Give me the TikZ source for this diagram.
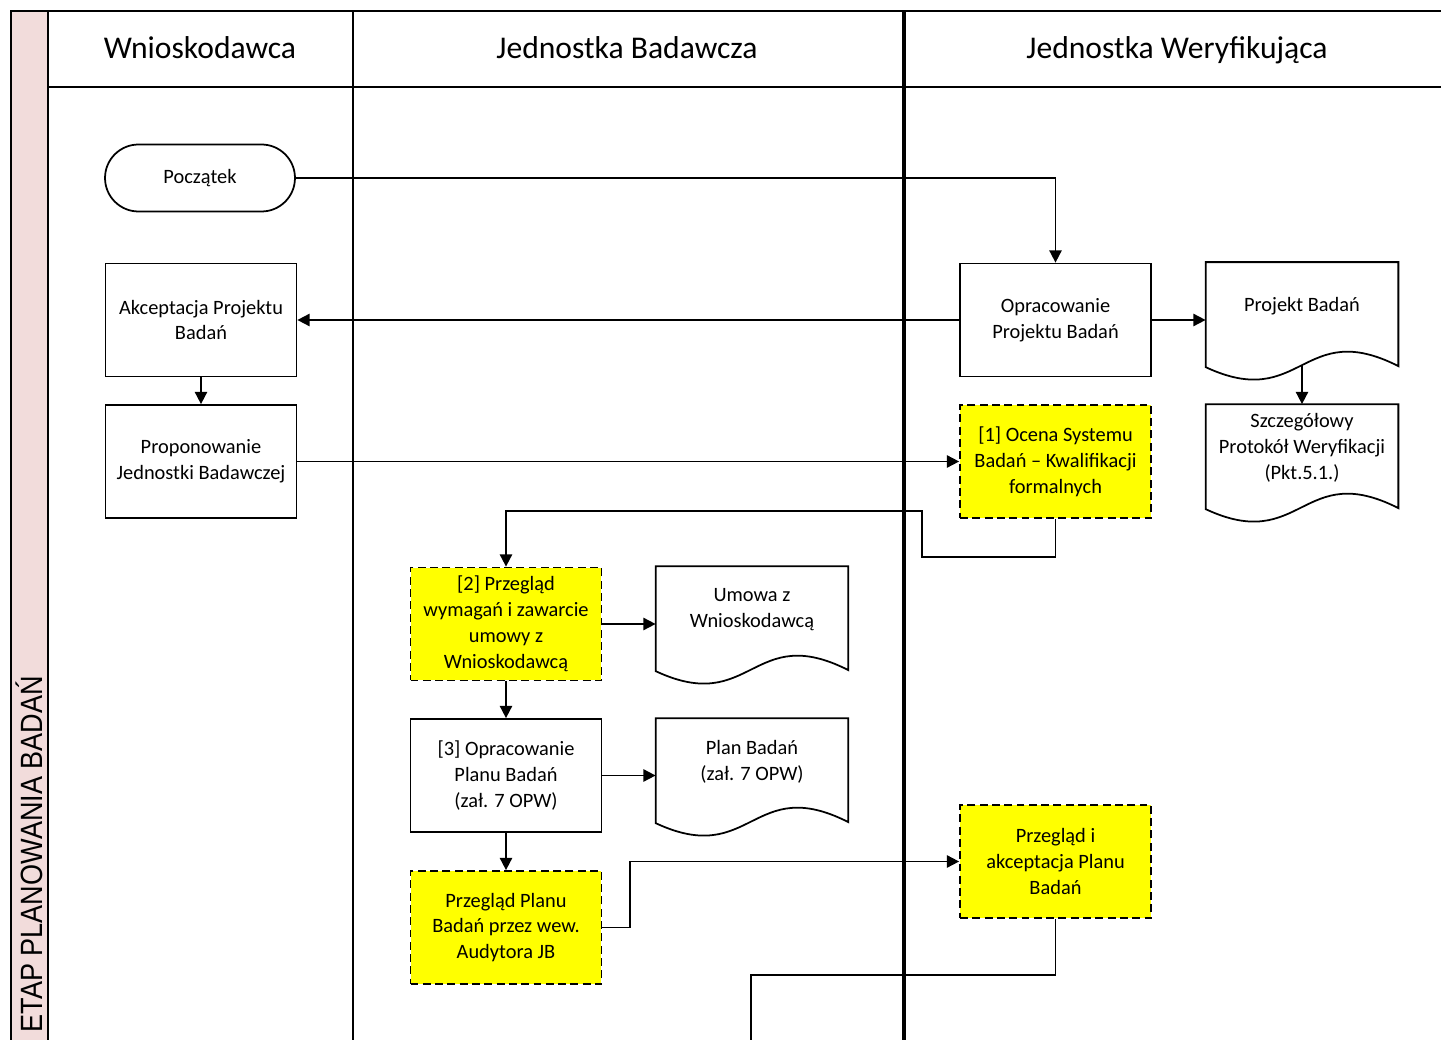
\documentclass[tikz,border=0pt]{standalone}
\usepackage{fontspec}
\setmainfont{Carlito}
\newfontfamily\lanefont[FakeStretch=0.88]{Liberation Sans}
\usepackage{xcolor}
\usetikzlibrary{
    arrows.meta,
    calc
}
\definecolor{lanepink}{HTML}{F2DCDB}
\definecolor{checkyellow}{HTML}{FFFF00}

\begin{document}
\begin{tikzpicture}[x=0.02cm,y=-0.02cm,>={Triangle[length=7pt,width=7pt]},line width=1pt,font=\fontsize{11.6}{14.7}\selectfont]
    \tikzstyle{every node}=[align=center, inner sep=1pt]
    \tikzstyle{proc}=[draw, rectangle, minimum width=3.82cm, minimum height=2.26cm]
    \tikzstyle{check}=[proc, fill=checkyellow, dash pattern=on 4.5pt off 2.5pt]
    \tikzstyle{doc}=[rectangle, minimum width=3.82cm, minimum height=1.68cm]
    \tikzstyle{terminal}=[draw, rectangle, rounded corners=0.67cm, minimum width=3.8cm, minimum height=1.34cm]
    \tikzstyle{lanehead}=[font=\fontsize{18}{21}\selectfont, text height=12.5pt, text depth=4pt]
	\useasboundingbox (0,0) rectangle (1441,1040);

	% swimlanes
	\fill [lanepink] (11,11) rectangle (48,1040);
	\draw (11,1040) -- (11,11) -- (1441,11);
	\draw (48,11) -- (48,1040);
	\draw (48,87) -- (1441,87);
	\draw (353,11) -- (353,1040);
	\draw [line width=2.3pt] (904,11) -- (904,1040);
	\node [rotate=90, anchor=west, font=\lanefont\fontsize{17.5}{20}\selectfont] (etap) at (29,1035) {ETAP PLANOWANIA BADAŃ};

	\node [lanehead] (hWniosk) at (200,51) {Wnioskodawca};
	\node [lanehead] (hBadawcza) at (627,51) {Jednostka Badawcza};
	\node [lanehead] (hWeryf) at (1177,51) {Jednostka Weryfikująca};

	% steps
	\node [terminal] (start) at (200,178) {Początek};
	\node [proc] (akcept) at (201,320) {Akceptacja Projektu\\Badań};
	\node [proc] (propon) at (201,461.5) {Proponowanie\\Jednostki Badawczej};
	\node [proc] (opracProj) at (1055.5,320) {Opracowanie\\Projektu Badań};
	\node [check] (ocena) at (1055.5,461.5) {[1] Ocena Systemu\\Badań – Kwalifikacji\\formalnych};
	\node [check] (przeglWym) at (506,624) {[2] Przegląd\\wymagań i zawarcie\\umowy z\\Wnioskodawcą};
	\node [proc] (opracPlan) at (506,775.5) {[3] Opracowanie\\Planu Badań\\(zał. 7 OPW)};
	\node [check] (audyt) at (506,927.5) {Przegląd Planu\\Badań przez wew.\\Audytora JB};
	\node [check] (akceptPlan) at (1055.5,861.5) {Przegląd i\\akceptacja Planu\\Badań};

	% documents
	\node [doc] (projekt) at (1302,306) {Projekt Badań};
	\node [doc] (protokol) at (1302,448) {Szczegółowy\\Protokół Weryfikacji\\(Pkt.5.1.)};
	\node [doc] (umowa) at (752,610) {Umowa z\\Wnioskodawcą};
	\node [doc] (plan) at (752,762) {Plan Badań\\(zał. 7 OPW)};
	\foreach \d in {projekt,protokol,umowa,plan}
		\draw ($(\d.north west)+(0,-1)$) -- ($(\d.north east)+(0,-1)$) -- ($(\d.north east)+(0,103)$)
			.. controls ($(\d.north)+(0,54)$) and ($(\d.north)+(0,149)$) .. ($(\d.north west)+(0,104)$) -- cycle;

	\coordinate (ocenaLow) at (922,557);
	\coordinate (ocenaHigh) at (922,511);
	\coordinate (exitPt) at (751,1040);

	\draw [->] (start.east) -| (opracProj.north);
	\draw [->] (opracProj.west) -- (akcept.east);
	\draw [->] (opracProj.east) -- (opracProj.east -| projekt.west);
	\draw [->] ($(projekt.north)+(0,102)$) -- ($(protokol.north)+(0,-1)$);
	\draw [->] (akcept.south) -- (propon.north);
	\draw [->] (propon.east) -- (ocena.west);
	\draw [->] (ocena.south) |- (ocenaLow) -- (ocenaHigh) -| (przeglWym.north);
	\draw [->] (przeglWym.east) -- (przeglWym.east -| umowa.west);
	\draw [->] (przeglWym.south) -- (opracPlan.north);
	\draw [->] (opracPlan.east) -- (opracPlan.east -| plan.west);
	\draw [->] (opracPlan.south) -- (audyt.north);
	\draw [->] (audyt.east) -- ++(28,0) |- (akceptPlan.west);
	\draw (akceptPlan.south) -- ++(0,56) -| (exitPt);
\end{tikzpicture}
\end{document}
